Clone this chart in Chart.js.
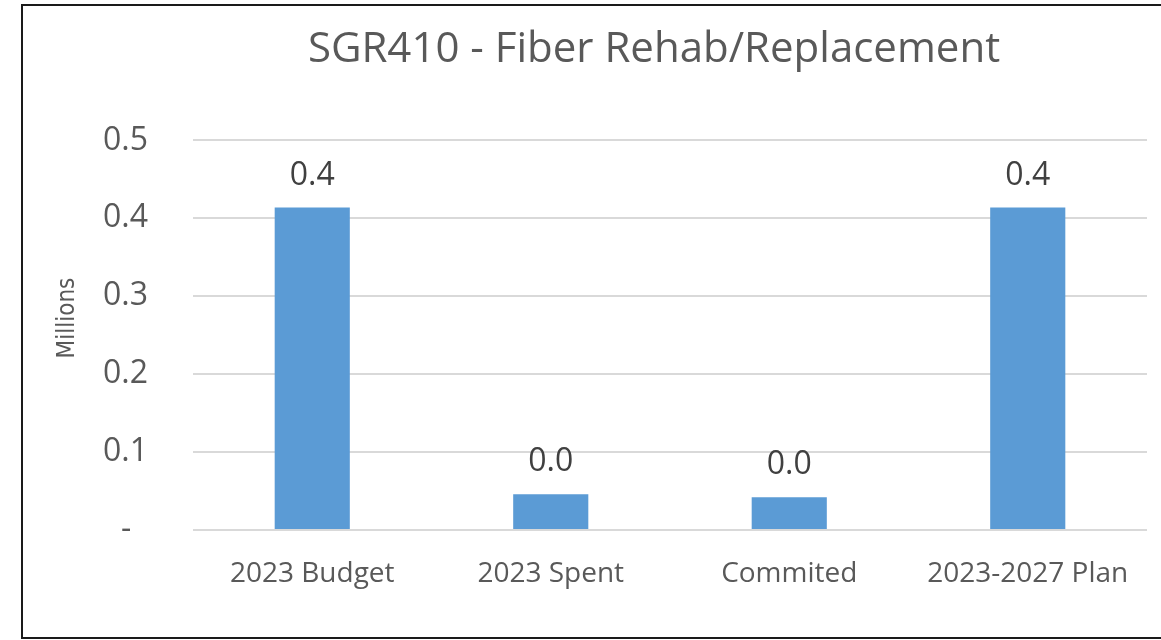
<!DOCTYPE html>
<html>
<head>
<meta charset="utf-8">
<script src="https://cdn.jsdelivr.net/npm/chart.js@4.4.1/dist/chart.umd.min.js"></script>
<style>
  html, body { margin: 0; padding: 0; background: #fff; overflow: hidden; }
  .frame {
    position: absolute; left: 21px; top: 4px; width: 1400px; height: 635px;
    border: 2px solid #1a1a1a; box-sizing: border-box;
  }
  .wrap { position: absolute; left: 0; top: 0; width: 1308px; height: 640px; }
</style>
</head>
<body>
<div class="frame"></div>
<div class="wrap"><canvas id="chart" width="1308" height="640"></canvas></div>
<script>
const categories = ["2023 Budget", "2023 Spent", "Commited", "2023-2027 Plan"];
const values = [0.414, 0.046, 0.042, 0.414];   // millions
const yTicks = [0, 0.1, 0.2, 0.3, 0.4, 0.5];

const textGrey = "#595959";

// draws the value above each bar, like excel data labels
const barLabels = {
    id: "barLabels",
    afterDatasetsDraw(chart) {
        const ctx = chart.ctx;
        const meta = chart.getDatasetMeta(0);
        ctx.save();
        ctx.font = "32px 'Open Sans'";
        ctx.fillStyle = "#404040";
        ctx.textAlign = "center";
        ctx.textBaseline = "middle";
        meta.data.forEach((bar, i) => {
            ctx.fillText(values[i].toFixed(1), bar.x, bar.y - 32);
        });
        ctx.restore();
    }
};

Chart.defaults.font.family = "'Open Sans', sans-serif";
Chart.defaults.color = textGrey;

new Chart(document.getElementById("chart"), {
    type: "bar",
    data: {
        labels: categories,
        datasets: [{
            data: values,
            backgroundColor: "#5B9BD5",
            barPercentage: 0.315,
            categoryPercentage: 1
        }]
    },
    options: {
        responsive: false,
        animation: false,
        layout: { padding: 0 },
        plugins: {
            legend: { display: false },
            tooltip: { enabled: false },
            title: {
                display: true,
                text: "SGR410 - Fiber Rehab/Replacement",
                color: textGrey,
                font: { size: 42, weight: "normal" },
                padding: { top: 25, bottom: 65 }
            }
        },
        scales: {
            x: {
                grid: { display: false },
                border: { display: false },
                ticks: { font: { size: 28 }, color: textGrey, padding: 19, maxRotation: 0 },
                afterFit: s => { s.height = 110; }
            },
            y: {
                min: 0,
                max: 0.5,
                afterBuildTicks: s => { s.ticks = yTicks.map(v => ({ value: v })); },
                grid: { color: "#D9D9D9", lineWidth: 2, drawTicks: false },
                border: { display: false },
                ticks: {
                    font: { size: 32 },
                    color: textGrey,
                    padding: 45,
                    callback: v => v === 0 ? "-  " : v.toFixed(1)
                },
                title: {
                    display: true,
                    // leading spaces nudge the rotated label up a bit, as in the original
                    text: "     Millions",
                    color: textGrey,
                    font: { family: "'Liberation Sans Narrow', 'DejaVu Sans Condensed', sans-serif", size: 24 },
                    padding: { top: 53, bottom: 0 }
                },
                afterFit: s => { s.width = 193; }
            },
            yr: {
                position: "right",
                grid: { display: false },
                border: { display: false },
                ticks: { display: false },
                afterFit: s => { s.width = 161; }
            }
        }
    },
    plugins: [barLabels]
});
</script>
</body>
</html>
